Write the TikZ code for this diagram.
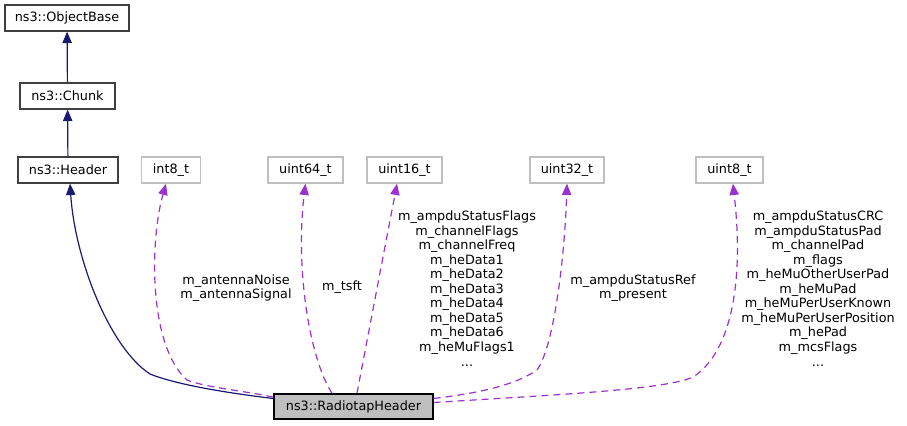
\documentclass[tikz,border=0pt]{standalone}
\usepackage{fontspec}
\setmainfont{DejaVu Sans}
\usetikzlibrary{arrows.meta}
\definecolor{inhblue}{HTML}{191970}
\definecolor{usepurple}{HTML}{9A32CD}
\definecolor{boxgray}{HTML}{404040}
\definecolor{lightgray}{HTML}{BFBFBF}
\tikzset{
  cls/.style={draw=boxgray, line width=1pt, inner sep=0pt, minimum height=19.5pt, font=\fontsize{9.6}{10.9}\selectfont},
  typ/.style={cls, draw=lightgray},
  inh/.style={-{Triangle[length=8.5pt,width=7pt]}, draw=inhblue, fill=none, line width=.9pt},
  use/.style={-{Triangle[length=8.5pt,width=7pt]}, draw=usepurple, line width=.9pt, dash pattern=on 5.25pt off 3.75pt},
  lbl/.style={align=center, inner sep=0pt, font=\fontsize{9.6}{10.9}\selectfont}
}
\begin{document}
\begin{tikzpicture}[x=.75pt, y=-.75pt]
\useasboundingbox (0,0) rectangle (907,425);
% classes
\node[cls, minimum width=93pt] (ob) at (67,18) {ns3::ObjectBase};
\node[cls, minimum width=71.25pt] (ch) at (67.5,96) {ns3::Chunk};
\node[cls, minimum width=75pt] (hd) at (68,170) {ns3::Header};
\node[cls, fill=lightgray, draw=black, minimum width=119.25pt, minimum height=18.75pt] (rh) at (353.5,406.5) {ns3::RadiotapHeader};
% member types
\node[typ, minimum width=44.25pt] (i8) at (171,170) {int8\_t};
\node[typ, minimum width=56.25pt] (u64) at (305.5,170) {uint64\_t};
\node[typ, minimum width=56.25pt] (u16) at (404.5,170) {uint16\_t};
\node[typ, minimum width=55.5pt] (u32) at (567,170) {uint32\_t};
\node[typ, minimum width=50.25pt] (u8) at (729.5,170) {uint8\_t};
% inheritance
\draw[inh] (ch) -- (ob);
\draw[inh] (hd) -- (ch);
\draw[inh] ([yshift=6pt]rh.west) .. controls (220,392) and (175,384) .. (150,374)
  .. controls (110,348) and (75,260) .. ([xshift=1.5pt]hd.south);
% members
\draw[use] ([yshift=7pt]rh.west) .. controls (240,390) and (208,388) .. (187,380)
  .. controls (148,345) and (150,240) .. ([xshift=-3.75pt]i8.south);
\draw[use] ([xshift=-16pt]rh.north) .. controls (310,360) and (295,270) .. (u64.south);
\draw[use] ([xshift=2.6pt]rh.north) -- ([xshift=-5.6pt]u16.south);
\draw[use] ([yshift=6pt]rh.east) .. controls (480,393) and (515,385) .. (537,370)
  .. controls (555,345) and (565,250) .. (u32.south);
\draw[use] ([yshift=3pt]rh.east) .. controls (550,395) and (665,390) .. (693,377)
  .. controls (728,355) and (745,290) .. ([xshift=2.6pt]u8.south);
% member names
\node[lbl] (l8) at (236,288) {m\_antennaNoise\\m\_antennaSignal};
\node[lbl] (l64) at (342,287) {m\_tsft};
\node[lbl] (l16) at (467,288.5) {m\_ampduStatusFlags\\m\_channelFlags\\m\_channelFreq\\m\_heData1\\m\_heData2\\m\_heData3\\m\_heData4\\m\_heData5\\m\_heData6\\m\_heMuFlags1\\...};
\node[lbl] (l32) at (633,288) {m\_ampduStatusRef\\m\_present};
\node[lbl] (lu8) at (818,288.5) {m\_ampduStatusCRC\\m\_ampduStatusPad\\m\_channelPad\\m\_flags\\m\_heMuOtherUserPad\\m\_heMuPad\\m\_heMuPerUserKnown\\m\_heMuPerUserPosition\\m\_hePad\\m\_mcsFlags\\...};
\end{tikzpicture}
\end{document}
